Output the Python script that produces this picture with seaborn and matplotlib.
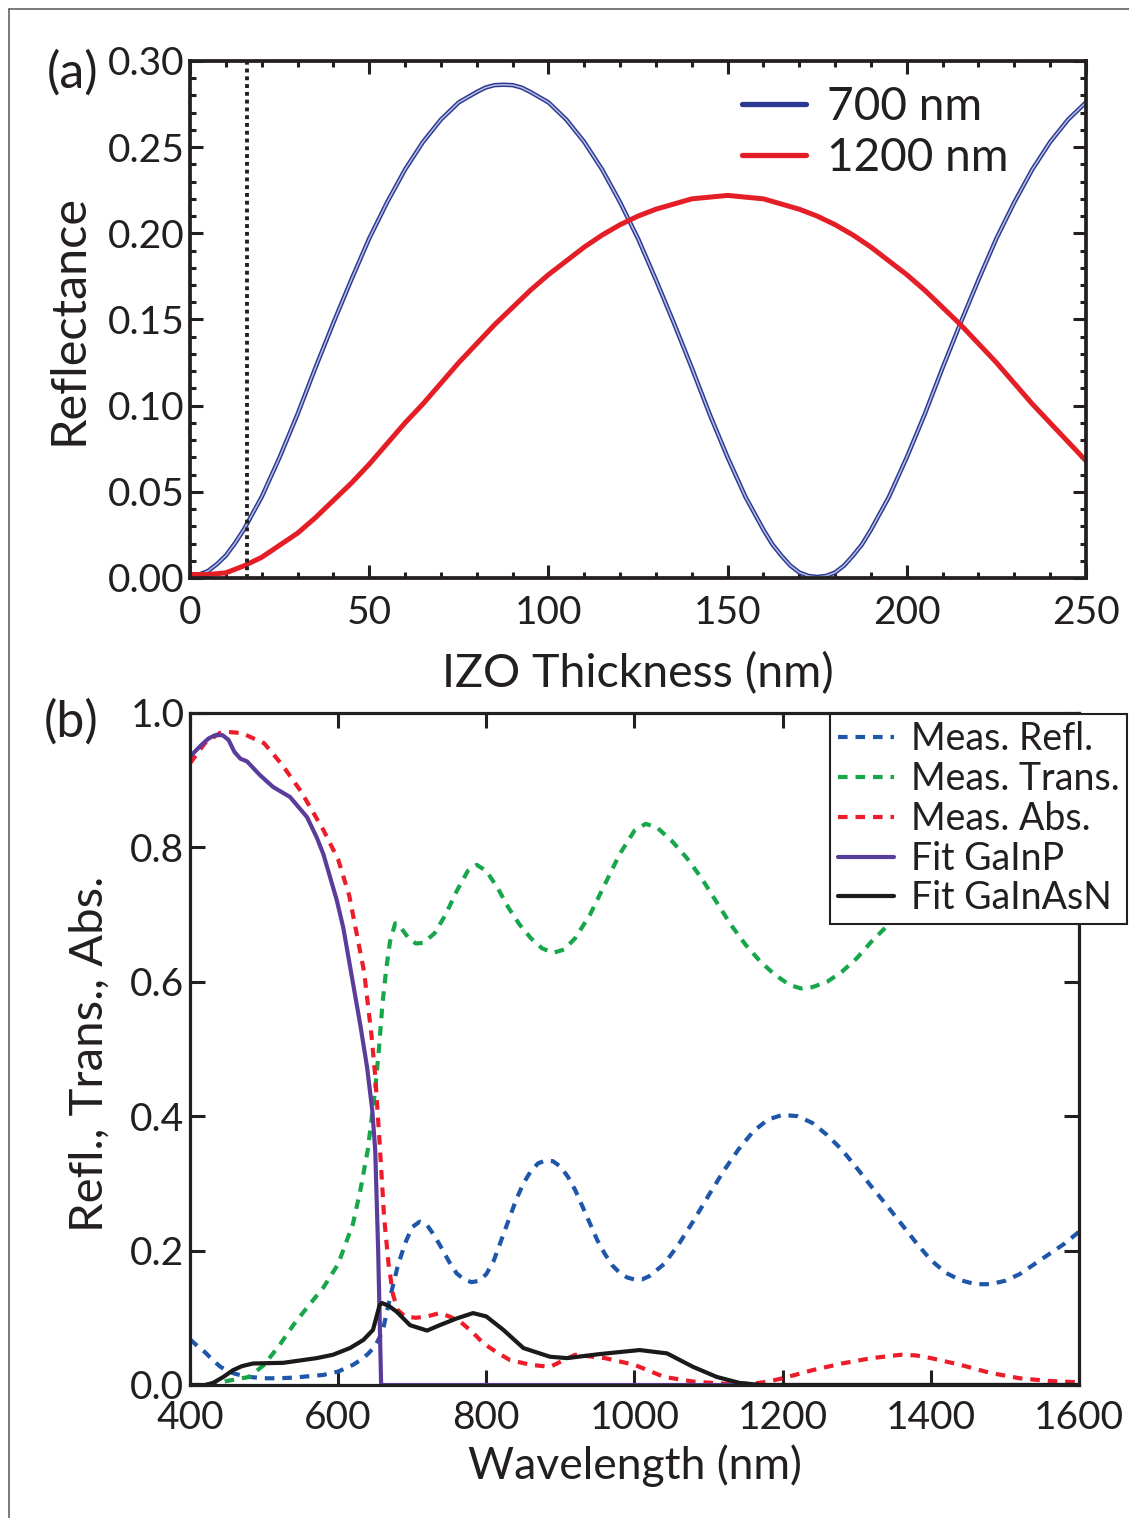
import numpy as np
import pandas as pd
import seaborn as sns
import matplotlib.pyplot as plt
from matplotlib.lines import Line2D
from matplotlib.ticker import MultipleLocator, FormatStrFormatter

# ---- panel (a): reflectance vs IZO thickness ----
thick_700 = [0, 2.5, 5, 7.5, 10, 12.5, 15, 20, 25, 30, 35, 40, 45, 50, 55, 60, 65, 70, 75,
             80, 82.5, 85, 87.5, 90, 92.5, 95, 100, 105, 110, 115, 120, 125, 130, 135,
             140, 145, 150, 155, 160, 162.5, 165, 167.5, 170, 172.5, 175, 177.5, 180,
             182.5, 185, 187.5, 190, 195, 200, 205, 210, 215, 220, 225, 230, 235, 240,
             245, 250]
refl_700 = [0.002, 0.002, 0.004, 0.008, 0.013, 0.020, 0.028, 0.047, 0.070, 0.095, 0.122,
            0.148, 0.173, 0.197, 0.218, 0.237, 0.253, 0.266, 0.276, 0.282, 0.2846, 0.286,
            0.2862, 0.286, 0.2846, 0.282, 0.276, 0.266, 0.253, 0.237, 0.218, 0.197, 0.173,
            0.148, 0.122, 0.095, 0.070, 0.047, 0.028, 0.0195, 0.013, 0.0072, 0.0032,
            0.0012, 0.0006, 0.0012, 0.0032, 0.0072, 0.013, 0.0195, 0.028, 0.047, 0.070,
            0.095, 0.122, 0.148, 0.173, 0.197, 0.218, 0.237, 0.253, 0.266, 0.276]
thick_1200 = list(range(0, 255, 5))
refl_1200 = [0.002, 0.002, 0.003, 0.007, 0.012, 0.019, 0.026, 0.035, 0.045, 0.055,
             0.066, 0.078, 0.090, 0.101, 0.113, 0.125, 0.136, 0.147, 0.157, 0.167,
             0.176, 0.184, 0.192, 0.199, 0.205, 0.210, 0.214, 0.217, 0.220, 0.221,
             0.222, 0.221, 0.220, 0.217, 0.214, 0.210, 0.205, 0.199, 0.192, 0.184,
             0.176, 0.167, 0.157, 0.147, 0.136, 0.125, 0.113, 0.101, 0.090, 0.079,
             0.068]
izo_mark = 16

# ---- panel (b): measured spectra and fits ----
refl_wl = [400, 410, 420, 430, 440, 450, 460, 470, 480, 500, 520, 540, 560, 580, 600,
           620, 630, 640, 650, 660, 670, 680, 690, 700, 710, 720, 730, 740, 750, 760,
           770, 780, 790, 800, 810, 820, 830, 840, 850, 860, 870, 880, 890, 900, 910,
           920, 930, 940, 950, 960, 970, 980, 990, 1000, 1010, 1020, 1040, 1060, 1080,
           1100, 1120, 1140, 1160, 1180, 1200, 1220, 1240, 1260, 1280, 1300, 1320,
           1340, 1360, 1380, 1400, 1420, 1440, 1460, 1480, 1500, 1520, 1540, 1560,
           1580, 1600]
refl_meas = [0.068, 0.058, 0.049, 0.038, 0.028, 0.021, 0.017, 0.014, 0.012, 0.010,
             0.010, 0.011, 0.013, 0.015, 0.020, 0.030, 0.037, 0.046, 0.058, 0.080,
             0.130, 0.175, 0.210, 0.235, 0.243, 0.238, 0.222, 0.203, 0.183, 0.166,
             0.157, 0.153, 0.155, 0.165, 0.185, 0.215, 0.245, 0.275, 0.300, 0.318,
             0.330, 0.334, 0.333, 0.325, 0.310, 0.290, 0.265, 0.240, 0.215, 0.195,
             0.178, 0.167, 0.160, 0.157, 0.157, 0.162, 0.180, 0.210, 0.245, 0.282,
             0.318, 0.350, 0.377, 0.395, 0.402, 0.400, 0.390, 0.372, 0.350, 0.323,
             0.295, 0.268, 0.240, 0.212, 0.186, 0.167, 0.156, 0.150, 0.150, 0.155,
             0.165, 0.180, 0.195, 0.210, 0.228]

trans_wl = [400, 420, 440, 460, 480, 500, 520, 540, 560, 580, 600, 620, 630, 640, 650,
            655, 660, 665, 670, 677, 685, 695, 705, 715, 730, 745, 760, 775, 787, 800,
            815, 830, 845, 860, 875, 890, 905, 920, 940, 960, 980, 1000, 1015, 1030,
            1050, 1070, 1090, 1110, 1130, 1150, 1170, 1190, 1210, 1225, 1240, 1260,
            1280, 1300, 1320, 1340, 1360, 1380, 1400, 1420, 1440, 1460, 1480, 1500,
            1520, 1540, 1560, 1580, 1600]
trans_meas = [0.000, 0.000, 0.004, 0.008, 0.012, 0.030, 0.058, 0.090, 0.118, 0.145,
              0.180, 0.240, 0.290, 0.350, 0.440, 0.500, 0.570, 0.620, 0.660, 0.687,
              0.680, 0.665, 0.657, 0.658, 0.672, 0.700, 0.735, 0.765, 0.774, 0.765,
              0.740, 0.710, 0.685, 0.665, 0.650, 0.643, 0.648, 0.665, 0.700, 0.745,
              0.790, 0.825, 0.835, 0.830, 0.810, 0.785, 0.755, 0.720, 0.685, 0.655,
              0.630, 0.610, 0.595, 0.590, 0.592, 0.600, 0.615, 0.635, 0.660, 0.682,
              0.705, 0.730, 0.760, 0.790, 0.815, 0.830, 0.835, 0.830, 0.820, 0.805,
              0.790, 0.780, 0.770]

abs_wl = [400, 420, 440, 450, 470, 500, 525, 550, 580, 600, 615, 635, 645, 650, 656,
          662, 668, 674, 680, 690, 705, 720, 737, 750, 765, 780, 796, 815, 832, 860,
          886, 920, 960, 1000, 1040, 1080, 1120, 1160, 1180, 1200, 1240, 1280, 1320,
          1360, 1380, 1400, 1440, 1480, 1520, 1560, 1600]
abs_meas = [0.925, 0.955, 0.970, 0.972, 0.970, 0.955, 0.922, 0.883, 0.826, 0.782,
            0.728, 0.615, 0.520, 0.460, 0.360, 0.250, 0.180, 0.135, 0.112, 0.102,
            0.100, 0.102, 0.107, 0.102, 0.094, 0.080, 0.062, 0.048, 0.037, 0.030,
            0.027, 0.045, 0.040, 0.030, 0.012, 0.005, 0.002, 0.002, 0.005, 0.010,
            0.022, 0.032, 0.040, 0.045, 0.044, 0.040, 0.030, 0.018, 0.010, 0.006,
            0.004]

gainp_wl = [400, 415, 425, 434, 444, 452, 460, 468, 477, 494, 512, 535, 558, 571, 580,
            589, 598, 607, 620, 630, 639, 646, 650, 654, 658, 700, 1000, 1600]
gainp_fit = [0.935, 0.952, 0.962, 0.967, 0.967, 0.960, 0.942, 0.932, 0.928, 0.908,
             0.890, 0.875, 0.845, 0.815, 0.790, 0.756, 0.722, 0.680, 0.598, 0.535,
             0.473, 0.409, 0.350, 0.200, 0.000, 0.000, 0.000, 0.000]

gainasn_wl = [400, 420, 431, 445, 458, 470, 485, 526, 571, 593, 616, 634, 647, 656,
              659, 668, 679, 697, 720, 737, 760, 782, 800, 823, 850, 886, 909, 953,
              1007, 1044, 1079, 1111, 1142, 1170, 1600]
gainasn_fit = [0.000, 0.000, 0.003, 0.012, 0.022, 0.028, 0.032, 0.033, 0.040, 0.045,
               0.055, 0.067, 0.082, 0.119, 0.122, 0.118, 0.109, 0.089, 0.081, 0.089,
               0.099, 0.107, 0.102, 0.082, 0.055, 0.042, 0.040, 0.046, 0.052, 0.047,
               0.027, 0.012, 0.003, 0.000, 0.000]

# ---- style ----
sns.set_theme(style="ticks")
plt.rcParams['font.family'] = ['Lato', 'DejaVu Sans']
plt.rcParams['text.color'] = '#231f20'
plt.rcParams['axes.labelcolor'] = '#231f20'
plt.rcParams['xtick.color'] = '#231f20'
plt.rcParams['ytick.color'] = '#231f20'

fig = plt.figure(figsize=(11.29, 15.18), dpi=100)
ax1 = fig.add_axes([0.16829, 0.61924, 0.79362, 0.34058])
ax2 = fig.add_axes([0.16829, 0.08762, 0.78742, 0.44269])

# thin frame lines at the left and top of the figure
fig.add_artist(Line2D([9 / 1129, 9 / 1129], [0, 1 - 9 / 1518], transform=fig.transFigure,
                      color='#555555', lw=1.1))
fig.add_artist(Line2D([9 / 1129, 1], [1 - 9 / 1518, 1 - 9 / 1518], transform=fig.transFigure,
                      color='#555555', lw=1.1))

blue_a = '#2b3990'
red_a = '#e41e26'

# panel (a)
sns.lineplot(x=thick_700, y=refl_700, ax=ax1, color=blue_a, lw=3.2, estimator=None, sort=False)
sns.lineplot(x=thick_700, y=refl_700, ax=ax1, color='#b7bde3', lw=1.1, estimator=None, sort=False)
sns.lineplot(x=thick_1200, y=refl_1200, ax=ax1, color=red_a, lw=3.6, estimator=None, sort=False)
ax1.axvline(izo_mark, color='#231f20', ls=(0, (1, 1)), lw=2.8)

ax1.set_xlim(0, 250)
ax1.set_ylim(0, 0.30)
ax1.xaxis.set_major_locator(MultipleLocator(50))
ax1.xaxis.set_minor_locator(MultipleLocator(10))
ax1.yaxis.set_major_locator(MultipleLocator(0.05))
ax1.yaxis.set_minor_locator(MultipleLocator(0.01))
ax1.yaxis.set_major_formatter(FormatStrFormatter('%.2f'))
ax1.tick_params(which='both', direction='in', top=True, right=True, width=2.2,
                labelsize=28, pad=4)
ax1.tick_params(axis='x', which='both', pad=12)
ax1.tick_params(which='major', length=9.5)
ax1.tick_params(which='minor', length=4.5)
for s in ax1.spines.values():
    s.set_linewidth(2.7)
    s.set_color('#231f20')

ax1.set_xlabel('IZO Thickness (nm)', fontsize=33.5)
ax1.set_ylabel('Reflectance', fontsize=35)
ax1.xaxis.label.set_va('center')
ax1.yaxis.label.set_va('center')
ax1.xaxis.set_label_coords(0.5, -0.186)
ax1.yaxis.set_label_coords(-0.136, 0.5)

leg1 = ax1.legend(handles=[Line2D([], [], color=blue_a, lw=3.8), Line2D([], [], color=red_a, lw=3.8)],
                  labels=['700 nm', '1200 nm'], loc='upper left',
                  bbox_to_anchor=((742 - 190) / 896, (578 - 86) / 517), frameon=False,
                  fontsize=33, handlelength=1.4, handletextpad=0.45, borderpad=0,
                  borderaxespad=0, labelspacing=0.2)

# panel (b)
c_refl = '#1f56aa'
c_trans = '#17a64a'
c_abs = '#ec1c2a'
c_gainp = '#5a3d9a'
c_gainasn = '#1a1a1a'
dash = (0, (2.3, 1.9))

sns.lineplot(x=refl_wl, y=refl_meas, ax=ax2, color=c_refl, lw=3.0, ls=dash,
             estimator=None, sort=False, label='Meas. Refl.')
sns.lineplot(x=trans_wl, y=trans_meas, ax=ax2, color=c_trans, lw=3.0, ls=dash,
             estimator=None, sort=False, label='Meas. Trans.')
sns.lineplot(x=abs_wl, y=abs_meas, ax=ax2, color=c_abs, lw=3.0, ls=dash,
             estimator=None, sort=False, label='Meas. Abs.')
sns.lineplot(x=gainp_wl, y=gainp_fit, ax=ax2, color=c_gainp, lw=3.0,
             estimator=None, sort=False, label='Fit GaInP')
sns.lineplot(x=gainasn_wl, y=gainasn_fit, ax=ax2, color=c_gainasn, lw=3.0,
             estimator=None, sort=False, label='Fit GaInAsN')

ax2.set_xlim(400, 1600)
ax2.set_ylim(0, 1.0)
ax2.xaxis.set_major_locator(MultipleLocator(200))
ax2.yaxis.set_major_locator(MultipleLocator(0.2))
ax2.yaxis.set_major_formatter(FormatStrFormatter('%.1f'))
ax2.tick_params(which='major', direction='in', top=True, right=True, width=2.2,
                length=11, labelsize=28, pad=4)
ax2.tick_params(axis='x', pad=10.5)
for s in ax2.spines.values():
    s.set_linewidth(2.3)
    s.set_color('#231f20')

ax2.set_xlabel('Wavelength (nm)', fontsize=32)
ax2.set_ylabel('Refl., Trans., Abs.', fontsize=34)
ax2.xaxis.label.set_va('center')
ax2.yaxis.label.set_va('center')
ax2.xaxis.set_label_coords(0.5, -0.12)
ax2.yaxis.set_label_coords(-0.1125, 0.492)

leg2 = ax2.legend(loc='upper right', bbox_to_anchor=((1127 - 190) / 889, (1385 - 714) / 672),
                  borderaxespad=0, fontsize=27, handlelength=1.5, handletextpad=0.45,
                  borderpad=0.2, labelspacing=0.1, fancybox=False, framealpha=1)
leg2.get_frame().set_edgecolor('#231f20')
leg2.get_frame().set_linewidth(1.5)

fig.text(47 / 1129, 1 - 73 / 1518, '(a)', fontsize=36, ha='left', va='center')
fig.text(44 / 1129, 1 - 722 / 1518, '(b)', fontsize=36, ha='left', va='center')

fig.savefig('out.png', dpi=100)
